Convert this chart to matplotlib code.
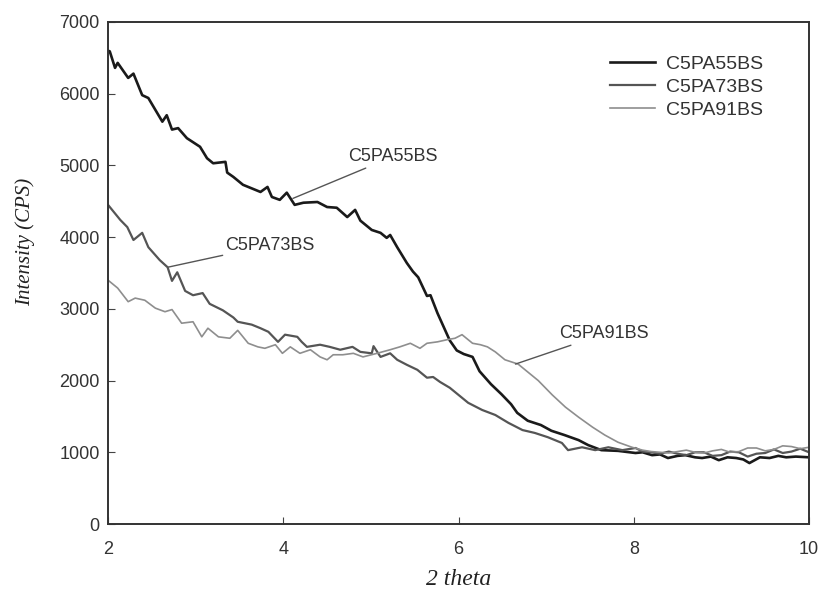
import matplotlib
matplotlib.use("Agg")
import matplotlib.pyplot as plt

# C5PA55BS (black)
x_55 = [2.00, 2.02, 2.08, 2.11, 2.23, 2.29, 2.39, 2.46, 2.62, 2.67, 2.73, 2.80, 2.90,
        3.05, 3.13, 3.20, 3.34, 3.36, 3.43, 3.54, 3.62, 3.74, 3.82, 3.87, 3.96, 4.04,
        4.13, 4.23, 4.39, 4.50, 4.61, 4.73, 4.82, 4.88, 5.01, 5.11, 5.18, 5.22, 5.30,
        5.41, 5.48, 5.54, 5.64, 5.68, 5.76, 5.90, 5.98, 6.06, 6.16, 6.24, 6.37, 6.49,
        6.60, 6.67, 6.79, 6.94, 7.06, 7.21, 7.37, 7.48, 7.63, 7.82, 8.02, 8.10, 8.21,
        8.30, 8.39, 8.50, 8.59, 8.70, 8.78, 8.88, 8.97, 9.07, 9.17, 9.25, 9.32, 9.44,
        9.55, 9.65, 9.74, 9.85, 10.0]
y_55 = [6600, 6590, 6360, 6430, 6220, 6280, 5980, 5940, 5610, 5700, 5500, 5520, 5380,
        5260, 5100, 5030, 5050, 4900, 4840, 4730, 4690, 4630, 4700, 4560, 4520, 4620,
        4450, 4480, 4490, 4420, 4410, 4280, 4380, 4230, 4100, 4060, 3990, 4030, 3860,
        3640, 3520, 3440, 3180, 3190, 2940, 2560, 2420, 2370, 2330, 2130, 1950, 1810,
        1670, 1550, 1440, 1380, 1300, 1240, 1170, 1100, 1030, 1020, 990, 1000, 960,
        970, 920, 950, 960, 930, 920, 940, 890, 930, 920, 900, 850, 930,
        920, 950, 930, 940, 930]

# C5PA73BS (dark grey)
x_73 = [2.00, 2.02, 2.14, 2.22, 2.29, 2.39, 2.46, 2.59, 2.68, 2.73, 2.79, 2.88, 2.97,
        3.08, 3.16, 3.31, 3.43, 3.48, 3.64, 3.74, 3.83, 3.94, 4.02, 4.16, 4.21, 4.27,
        4.42, 4.53, 4.65, 4.79, 4.88, 5.01, 5.03, 5.11, 5.22, 5.30, 5.41, 5.53, 5.64,
        5.71, 5.79, 5.90, 6.02, 6.11, 6.27, 6.42, 6.57, 6.73, 6.87, 7.02, 7.18, 7.25,
        7.41, 7.56, 7.71, 7.87, 8.02, 8.10, 8.20, 8.30, 8.40, 8.50, 8.60, 8.70, 8.80,
        8.90, 9.00, 9.10, 9.20, 9.30, 9.40, 9.50, 9.60, 9.70, 9.80, 9.90, 10.0]
y_73 = [4450, 4420, 4240, 4140, 3960, 4060, 3860, 3680, 3580, 3390, 3510, 3250, 3190,
        3220, 3070, 2980, 2880, 2820, 2780, 2730, 2680, 2540, 2640, 2610, 2540, 2470,
        2500, 2470, 2430, 2470, 2400, 2380, 2480, 2330, 2380, 2290, 2220, 2150, 2040,
        2050, 1980, 1900, 1780, 1690, 1590, 1520, 1410, 1310, 1270, 1210, 1130, 1030,
        1070, 1030, 1070, 1030, 1060, 1010, 1000, 980, 1010, 980, 960, 1000, 1000,
        950, 960, 1010, 1000, 940, 980, 990, 1040, 990, 1010, 1050, 1000]

# C5PA91BS (light grey)
x_91 = [2.00, 2.02, 2.11, 2.23, 2.31, 2.42, 2.54, 2.65, 2.73, 2.84, 2.97, 3.07, 3.14,
        3.26, 3.39, 3.48, 3.60, 3.71, 3.79, 3.91, 3.99, 4.08, 4.19, 4.31, 4.42, 4.50,
        4.57, 4.68, 4.80, 4.91, 5.07, 5.22, 5.33, 5.45, 5.56, 5.64, 5.76, 5.87, 5.96,
        6.04, 6.16, 6.25, 6.33, 6.42, 6.53, 6.68, 6.76, 6.91, 7.07, 7.22, 7.37, 7.53,
        7.67, 7.82, 7.98, 8.10, 8.20, 8.30, 8.40, 8.50, 8.60, 8.70, 8.80, 8.90, 9.00,
        9.10, 9.20, 9.30, 9.40, 9.50, 9.60, 9.70, 9.80, 9.90, 10.0]
y_91 = [3400, 3380, 3290, 3100, 3150, 3120, 3010, 2960, 2990, 2800, 2820, 2610, 2730,
        2610, 2590, 2700, 2520, 2470, 2450, 2500, 2380, 2470, 2380, 2430, 2330, 2290,
        2360, 2360, 2380, 2330, 2380, 2430, 2470, 2520, 2450, 2520, 2540, 2570, 2590,
        2640, 2520, 2500, 2470, 2400, 2290, 2230, 2150, 2000, 1800, 1630, 1490, 1350,
        1240, 1140, 1070, 1030, 1010, 1000, 990, 1010, 1030, 1000, 990, 1020, 1040,
        1000, 1010, 1060, 1060, 1020, 1040, 1090, 1080, 1050, 1070]

labels = ["C5PA55BS", "C5PA73BS", "C5PA91BS"]
colors = ["#1a1a1a", "#555555", "#8e8e8e"]

plt.rcParams["font.family"] = "Liberation Sans"

fig = plt.figure(figsize=(8.19, 5.96), dpi=100)
ax = fig.add_axes([0.1319, 0.1208, 0.8559, 0.8423])

ax.plot(x_55, y_55, color=colors[0], lw=1.9, label=labels[0])
ax.plot(x_73, y_73, color=colors[1], lw=1.6, label=labels[1])
ax.plot(x_91, y_91, color=colors[2], lw=1.2, label=labels[2])

ax.set_xlim(2, 10)
ax.set_ylim(0, 7000)
ax.set_xticks([2, 4, 6, 8, 10])
ax.set_yticks(range(0, 7001, 1000))
ax.tick_params(direction="in", length=5, width=0.8, color="#444444",
               labelsize=13, labelcolor="#333333", pad=6)
ax.tick_params(axis="x", pad=12)
for s in ax.spines.values():
    s.set_color("#333333")
    s.set_linewidth(1.4)

ax.set_xlabel("2 theta", family="Liberation Serif", style="italic", fontsize=17,
              color="#222222", labelpad=8)
ax.set_ylabel("Intensity (CPS)", family="Liberation Serif", style="italic",
              fontsize=15, color="#222222")
ax.yaxis.set_label_coords(-0.104, 0.562)

# leader-line labels
ann = dict(fontsize=13, color="#333333", va="center", ha="left")
line = dict(arrowstyle="-", color="#555555", lw=1.0, shrinkA=0, shrinkB=0)
ax.annotate(labels[0], xy=(4.11, 4540), xytext=(4.74, 5120), arrowprops=line, **ann)
ax.annotate(labels[1], xy=(2.68, 3580), xytext=(3.34, 3890), arrowprops=line, **ann)
ax.annotate(labels[2], xy=(6.65, 2230), xytext=(7.15, 2650), arrowprops=line, **ann)

leg = ax.legend(loc="upper left", bbox_to_anchor=(0.716, 0.934), frameon=False,
                fontsize=14, handlelength=2.3, handletextpad=0.6, labelspacing=0.28,
                borderpad=0, borderaxespad=0)
for t in leg.get_texts():
    t.set_color("#333333")

fig.savefig("out.png", dpi=100)
